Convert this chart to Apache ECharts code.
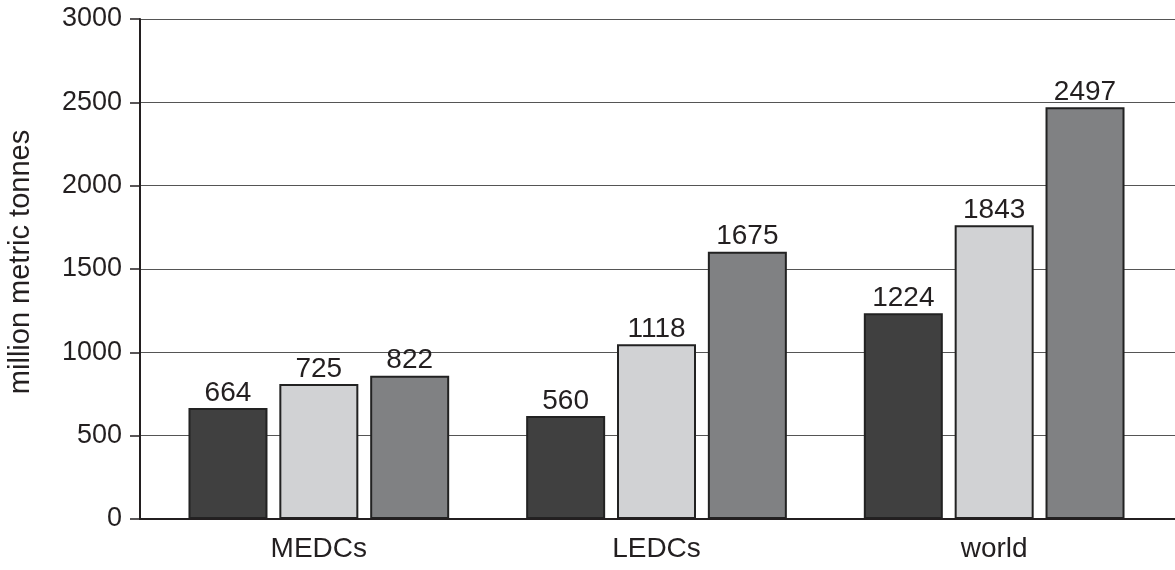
<!DOCTYPE html>
<html><head><meta charset="utf-8">
<script src="https://cdn.jsdelivr.net/npm/echarts@6/dist/echarts.min.js"></script>
<style>html,body{margin:0;padding:0;background:#fff}#c{width:1175px;height:570px}</style>
</head><body><div id="c"></div>
<script>
const categories = ['MEDCs', 'LEDCs', 'world'];
// bar heights as drawn in the picture
const seriesA = [666, 618, 1235];
const seriesB = [810, 1048, 1763];
const seriesC = [860, 1604, 2471];
// printed value labels
const labelsA = [664, 560, 1224];
const labelsB = [725, 1118, 1843];
const labelsC = [822, 1675, 2497];
const yTicks = [0, 500, 1000, 1500, 2000, 2500, 3000];
const yTitle = 'million metric tonnes';

const font = 'Liberation Sans';
function mk(data, labels, color) {
  return {
    type: 'bar', xAxisIndex: 0, yAxisIndex: 0, data: data,
    barWidth: 79, barGap: '15%',
    itemStyle: { color: color, borderColor: '#222', borderWidth: 2 },
    label: { show: true, position: 'top', distance: 1, color: '#231f20', fontSize: 28, fontFamily: font,
      formatter: p => String(labels[p.dataIndex]) },
    z: 3
  };
}
const chart = echarts.init(document.getElementById('c'));
chart.setOption({
  animation: false,
  backgroundColor: '#fff',
  grid: [
    { left: 150, right: 12, top: 19, bottom: 51 },
    { left: 140, right: 0, top: 19, bottom: 51 }
  ],
  graphic: [{
    type: 'text', rotation: Math.PI / 2,
    x: 21, y: 262,
    style: { text: yTitle, fontSize: 29, fontFamily: font, fill: '#231f20', textAlign: 'center', textVerticalAlign: 'middle' }
  }],
  xAxis: [
    { type: 'category', gridIndex: 0, data: categories,
      axisLine: { show: false }, axisTick: { show: false },
      axisLabel: { margin: 16, fontSize: 28, color: '#231f20', fontFamily: font } },
    { type: 'category', gridIndex: 1, data: [''],
      axisLine: { show: true, lineStyle: { color: '#231f20', width: 2 } },
      axisTick: { show: false }, axisLabel: { show: false }, z: 4 }
  ],
  yAxis: [
    { type: 'value', gridIndex: 0, min: 0, max: 3000, interval: 500, show: false, splitLine: { show: false } },
    { type: 'value', gridIndex: 1, min: 0, max: 3000, interval: 500,
      axisLine: { show: true, lineStyle: { color: '#231f20', width: 2 } },
      axisTick: { show: true, length: 10, lineStyle: { color: '#231f20', width: 1.5 } },
      axisLabel: { margin: 18, fontSize: 27, color: '#231f20', fontFamily: font,
        formatter: v => yTicks.includes(v) ? String(v) : '' },
      splitLine: { show: true, lineStyle: { color: '#555', width: 1.2 } } }
  ],
  series: [
    mk(seriesA, labelsA, '#404040'),
    mk(seriesB, labelsB, '#d1d2d4'),
    mk(seriesC, labelsC, '#808183')
  ]
});
</script></body></html>
